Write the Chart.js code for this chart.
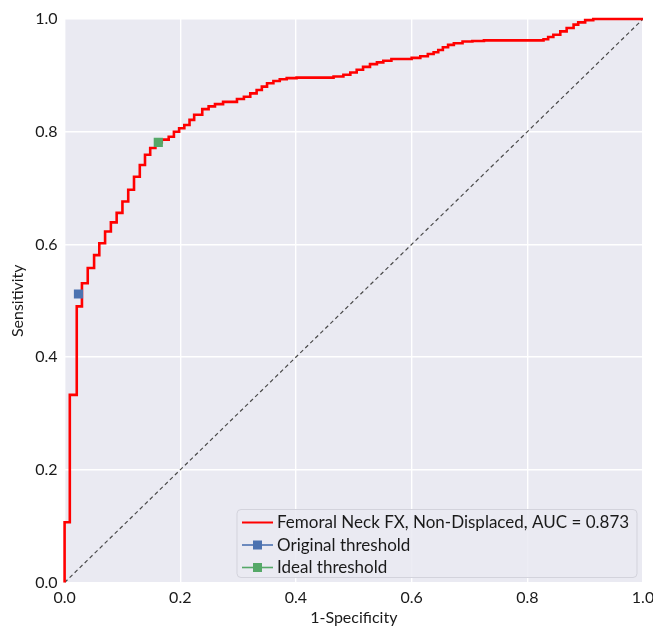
<!DOCTYPE html>
<html>
<head>
<meta charset="utf-8">
<script src="https://cdn.jsdelivr.net/npm/chart.js@4.4.1/dist/chart.umd.min.js"></script>
<style>
  body { margin: 0; background: #fff; }
  canvas { display: block; }
</style>
</head>
<body>
<canvas id="rocChart" width="653" height="627"></canvas>
<script>
// ROC curve corners (step-before)
const fpr = [0.000, 0.000, 0.009, 0.021, 0.030, 0.040, 0.051, 0.060, 0.070, 0.080,
  0.090, 0.100, 0.110, 0.120, 0.130, 0.139, 0.148, 0.157, 0.168, 0.180,
  0.189, 0.198, 0.207, 0.216, 0.224, 0.238, 0.249, 0.260, 0.274, 0.298,
  0.310, 0.321, 0.332, 0.341, 0.350, 0.361, 0.372, 0.384, 0.401, 0.465,
  0.482, 0.494, 0.505, 0.516, 0.528, 0.540, 0.551, 0.565, 0.600, 0.615,
  0.628, 0.638, 0.646, 0.654, 0.663, 0.673, 0.688, 0.705, 0.725, 0.828,
  0.836, 0.845, 0.857, 0.868, 0.880, 0.888, 0.900, 0.914, 1.000];
const tpr = [0.000, 0.107, 0.333, 0.490, 0.531, 0.558, 0.581, 0.602, 0.623, 0.639,
  0.656, 0.676, 0.697, 0.720, 0.741, 0.759, 0.771, 0.781, 0.786, 0.791,
  0.800, 0.806, 0.812, 0.821, 0.830, 0.840, 0.845, 0.849, 0.853, 0.858,
  0.862, 0.868, 0.874, 0.880, 0.886, 0.890, 0.893, 0.895, 0.896, 0.898,
  0.901, 0.905, 0.910, 0.915, 0.920, 0.923, 0.926, 0.929, 0.931, 0.934,
  0.938, 0.941, 0.945, 0.950, 0.954, 0.957, 0.960, 0.961, 0.962, 0.964,
  0.968, 0.972, 0.978, 0.984, 0.990, 0.994, 0.998, 1.000, 1.000];

const chanceX = [0, 1];
const chanceY = [0, 1];

const originalPoint = [0.024, 0.512];
const idealPoint = [0.162, 0.781];

const rocLabel = "Femoral Neck FX, Non-Displaced, AUC = 0.873";
const originalLabel = "Original threshold";
const idealLabel = "Ideal threshold";

const tickValues = [0, 0.2, 0.4, 0.6, 0.8, 1.0];

const FONT = "Lato, 'Open Sans', sans-serif";

function toPoints(xs, ys) {
  return xs.map((x, i) => ({ x: x, y: ys[i] }));
}

// grey panel behind the plot, like seaborn darkgrid
const panelBg = {
  id: "panelBg",
  beforeDraw(chart) {
    const a = chart.chartArea;
    const ctx = chart.ctx;
    ctx.save();
    ctx.fillStyle = "#eaeaf2";
    ctx.fillRect(a.left, a.top, a.right - a.left, a.bottom - a.top);
    ctx.restore();
  }
};

// legend box in the lower right of the plot
const cornerLegend = {
  id: "cornerLegend",
  afterDraw(chart) {
    const ctx = chart.ctx;
    const a = chart.chartArea;
    const items = chart.data.datasets
      .filter(d => d.legendRank !== undefined)
      .sort((p, q) => p.legendRank - q.legendRank);
    const right = a.right - 6, bottom = a.bottom - 5;
    const w = 400, h = 68;
    const left = right - w, top = bottom - h;
    ctx.save();
    ctx.beginPath();
    ctx.roundRect(left, top, w, h, 4);
    ctx.fillStyle = "rgba(234,234,242,0.85)";
    ctx.fill();
    ctx.strokeStyle = "#d3d3dc";
    ctx.lineWidth = 1;
    ctx.stroke();

    ctx.font = "17px " + FONT;
    ctx.textBaseline = "middle";
    items.forEach((d, i) => {
      const y = top + 13 + i * 22.5;
      const x0 = left + 5, x1 = left + 36;
      ctx.beginPath();
      ctx.moveTo(x0, y);
      ctx.lineTo(x1, y);
      ctx.strokeStyle = d.borderColor;
      ctx.lineWidth = d.showLine ? 2 : 1.6;
      ctx.stroke();
      if (!d.showLine) {
        ctx.fillStyle = d.backgroundColor;
        ctx.fillRect((x0 + x1) / 2 - 4.5, y - 4.5, 9, 9);
      }
      ctx.fillStyle = "#1a1a1a";
      ctx.fillText(d.label, left + 40, y + 0.5);
    });
    ctx.restore();
  }
};

const ctx = document.getElementById("rocChart").getContext("2d");

const rocChart = new Chart(ctx, {
  type: "scatter",
  data: {
    datasets: [
      {
        label: originalLabel,
        data: [{ x: originalPoint[0], y: originalPoint[1] }],
        backgroundColor: "#4c72b0",
        borderColor: "#4c72b0",
        pointStyle: "rect",
        pointRadius: 6.5,
        borderWidth: 0,
        order: 0,
        legendRank: 1
      },
      {
        label: idealLabel,
        data: [{ x: idealPoint[0], y: idealPoint[1] }],
        backgroundColor: "#55a868",
        borderColor: "#55a868",
        pointStyle: "rect",
        pointRadius: 6.5,
        borderWidth: 0,
        order: 0,
        legendRank: 2
      },
      {
        label: rocLabel,
        data: toPoints(fpr, tpr),
        showLine: true,
        stepped: "before",
        borderColor: "#ff0000",
        borderWidth: 2.6,
        pointRadius: 0,
        clip: 4,
        order: 1,
        legendRank: 0
      },
      {
        label: "chance",
        data: toPoints(chanceX, chanceY),
        showLine: true,
        borderColor: "#4a4a4a",
        borderWidth: 1.2,
        borderDash: [4, 3],
        pointRadius: 0,
        order: 2
      }
    ]
  },
  options: {
    responsive: false,
    animation: false,
    layout: { autoPadding: false, padding: { top: 19, right: 10, left: 0, bottom: 0 } },
    plugins: {
      legend: { display: false },
      tooltip: { enabled: false }
    },
    scales: {
      x: {
        type: "linear",
        min: 0, max: 1,
        afterFit(scale) {
          scale.height = 44.5;
          scale.paddingLeft = 0;
          scale.paddingRight = 0;
        },
        afterBuildTicks(scale) { scale.ticks = tickValues.map(v => ({ value: v })); },
        grid: { color: "#ffffff", lineWidth: 1.4, drawTicks: false },
        border: { display: false },
        ticks: {
          padding: 6,
          color: "#1a1a1a",
          font: { family: FONT, size: 16 },
          maxRotation: 0,
          callback: v => v.toFixed(1)
        },
        title: {
          display: true,
          text: "1-Specificity",
          color: "#1a1a1a",
          font: { family: FONT, size: 16 },
          padding: { top: 0, bottom: 0 }
        }
      },
      y: {
        type: "linear",
        min: 0, max: 1,
        afterFit(scale) {
          scale.width = 64.6;
          scale.paddingTop = 0;
          scale.paddingBottom = 0;
        },
        afterBuildTicks(scale) { scale.ticks = tickValues.map(v => ({ value: v })); },
        grid: { color: "#ffffff", lineWidth: 1.4, drawTicks: false },
        border: { display: false },
        ticks: {
          padding: 7,
          color: "#1a1a1a",
          font: { family: FONT, size: 16 },
          callback: v => v.toFixed(1)
        },
        title: {
          display: true,
          text: "Sensitivity",
          color: "#1a1a1a",
          font: { family: FONT, size: 16 },
          padding: { top: 8, bottom: 0 }
        }
      }
    }
  },
  plugins: [panelBg, cornerLegend]
});
</script>
</body>
</html>
